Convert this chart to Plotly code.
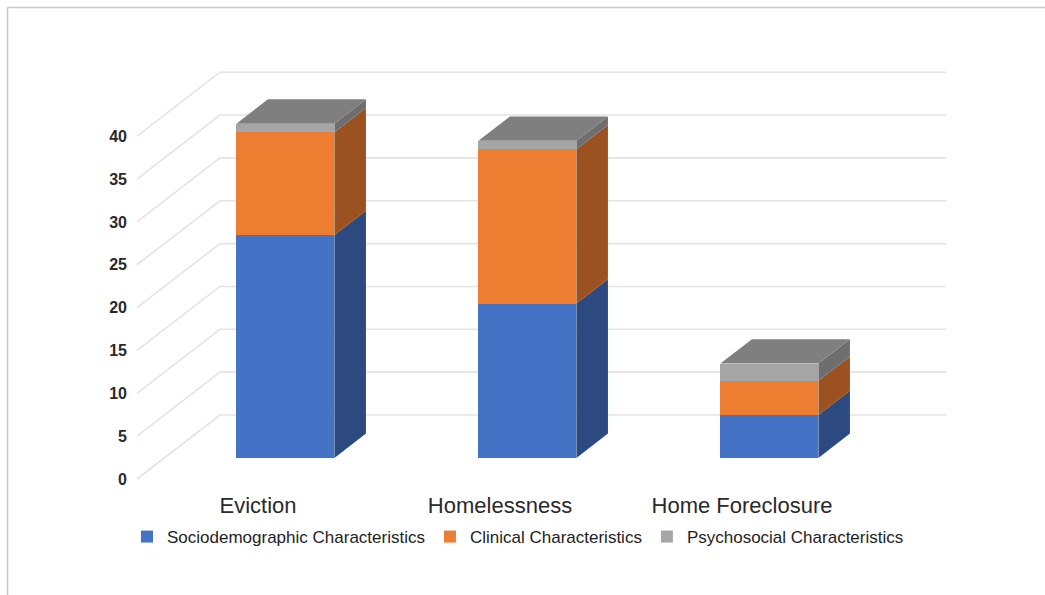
import plotly.graph_objects as go

# ---- data ----
categories = ["Eviction", "Homelessness", "Home Foreclosure"]
sociodemographic = [26, 18, 5]
clinical = [12, 18, 4]
psychosocial = [1, 1, 2]
y_ticks = [0, 5, 10, 15, 20, 25, 30, 35, 40]

series = [
    ("Sociodemographic Characteristics", sociodemographic, "#4472C4", "#2C4A7F"),
    ("Clinical Characteristics", clinical, "#ED7D31", "#9B5220"),
    ("Psychosocial Characteristics", psychosocial, "#A5A5A5", "#6E6E6E"),
]
TOP_COLOR = "#7F7F7F"

# ---- canvas / projection setup (pixels) ----
W, H = 1045, 595
PLOT_L, PLOT_R, PLOT_T, PLOT_B = 131, 1000, 40, 490
X0_PX, PX_PER_X = 258, 242.0        # category 0 centre on the front plane, spacing
V0_PX, PX_PER_V = 479.0, 8.57       # value 0 on the front plane, px per unit

x_range = [(PLOT_L - X0_PX) / PX_PER_X, (PLOT_R - X0_PX) / PX_PER_X]
y_range = [(V0_PX - PLOT_B) / PX_PER_V, (V0_PX - PLOT_T) / PX_PER_V]

# oblique depth vector of the full floor (front wall -> back wall)
DEPTH_DX = 83 / PX_PER_X
DEPTH_DV = 64 / PX_PER_V
BAR_D0, BAR_D1 = 0.33, 0.71         # bars sit between these depth fractions
BAR_W = 0.405

ox, ov = BAR_D0 * DEPTH_DX, BAR_D0 * DEPTH_DV
ddx, ddv = (BAR_D1 - BAR_D0) * DEPTH_DX, (BAR_D1 - BAR_D0) * DEPTH_DV

xpos = list(range(len(categories)))
wall_left = -0.5
wall_right = len(categories) - 0.5 + DEPTH_DX

fig = go.Figure()

# gridlines below the bars: slanted on the side wall, horizontal on the back wall
for v in y_ticks:
    path = (f"M{wall_left},{v} L{wall_left + DEPTH_DX},{v + DEPTH_DV} "
            f"L{wall_right},{v + DEPTH_DV}")
    fig.add_shape(type="path", path=path, xref="x", yref="y", layer="below",
                  line=dict(color="#E4E4E4", width=1.6))

# stacked bars: front faces as bars, side/top faces as filled polygons
bottoms = [0] * len(categories)
for name, vals, front, side in series:
    fig.add_trace(go.Bar(
        x=[p + ox for p in xpos], y=vals, base=[b + ov for b in bottoms],
        width=BAR_W, name=name, marker=dict(color=front, line=dict(width=0)),
    ))
    sx, sy = [], []
    for p, b, v in zip(xpos, bottoms, vals):
        xr = p + ox + BAR_W / 2
        lo, hi = b + ov, b + v + ov
        sx += [xr, xr, xr + ddx, xr + ddx, xr, None]
        sy += [lo, hi, hi + ddv, lo + ddv, lo, None]
    fig.add_trace(go.Scatter(x=sx, y=sy, mode="lines", fill="toself", fillcolor=side,
                             line=dict(width=0, color=side), hoverinfo="skip", showlegend=False))
    bottoms = [b + v for b, v in zip(bottoms, vals)]

# top faces of the stacks
tx, ty = [], []
for p, t in zip(xpos, bottoms):
    xl, xr = p + ox - BAR_W / 2, p + ox + BAR_W / 2
    top = t + ov
    tx += [xl, xr, xr + ddx, xl + ddx, xl, None]
    ty += [top, top, top + ddv, top + ddv, top, None]
fig.add_trace(go.Scatter(x=tx, y=ty, mode="lines", fill="toself", fillcolor=TOP_COLOR,
                         line=dict(width=0, color=TOP_COLOR), hoverinfo="skip", showlegend=False))

# frame lines along the top and left edges
def px_to_paper_x(px):
    return (px - PLOT_L) / (PLOT_R - PLOT_L)

def px_to_paper_y(py):
    return (PLOT_B - py) / (PLOT_B - PLOT_T)

frame = dict(type="line", xref="paper", yref="paper", line=dict(color="#C8C8C8", width=1.5))
fig.add_shape(**frame, x0=px_to_paper_x(7.5), y0=px_to_paper_y(7.5), x1=px_to_paper_x(1050), y1=px_to_paper_y(7.5))
fig.add_shape(**frame, x0=px_to_paper_x(7.5), y0=px_to_paper_y(7.5), x1=px_to_paper_x(7.5), y1=px_to_paper_y(600))

font_family = "Liberation Sans, Arial, sans-serif"
fig.update_layout(
    width=W, height=H,
    margin=dict(l=PLOT_L, r=W - PLOT_R, t=PLOT_T, b=H - PLOT_B, pad=0, autoexpand=False),
    paper_bgcolor="white", plot_bgcolor="white",
    barmode="overlay", bargap=0,
    showlegend=True,
    legend=dict(orientation="h", xref="container", yref="container",
                x=127 / W, y=1 - 537 / H, xanchor="left", yanchor="middle",
                font=dict(family=font_family, size=17, color="#1E1E1E"),
                traceorder="normal", itemclick=False, itemdoubleclick=False),
    xaxis=dict(range=x_range, tickmode="array", tickvals=xpos, ticktext=categories,
               showgrid=False, zeroline=False, showline=False, ticks="", automargin=False,
               tickfont=dict(family=font_family, size=22, color="#2A2A2A"),
               ticklabelstandoff=0, fixedrange=True),
    yaxis=dict(range=y_range, tickmode="array", tickvals=y_ticks, automargin=False,
               showgrid=False, zeroline=False, showline=False, ticks="",
               tickfont=dict(family=font_family, size=16, color="#2A2A2A", weight="bold"),
               ticklabelstandoff=3, fixedrange=True),
)

fig.write_html("out.html")
